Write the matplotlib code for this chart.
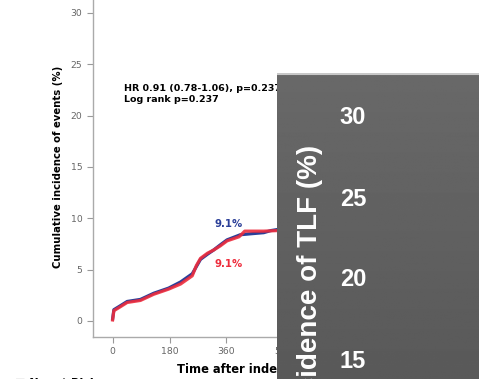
import matplotlib.pyplot as plt
import numpy as np

plt.rcParams['font.family'] = ['DejaVu Sans']

# cumulative incidence curves (days, %)
days_blue = [0, 4, 20, 46, 88, 130, 177, 215, 252, 265, 278, 300, 319, 340, 362, 404, 440, 478, 500, 520, 560]
inc_blue = [0.2, 1.1, 1.4, 1.9, 2.1, 2.7, 3.2, 3.8, 4.6, 5.3, 6.0, 6.5, 6.9, 7.4, 7.9, 8.4, 8.5, 8.6, 8.8, 8.9, 9.0]
days_red = [0, 4, 20, 46, 88, 130, 177, 215, 252, 265, 278, 300, 319, 340, 362, 400, 418, 440, 478, 520, 560]
inc_red = [0.1, 1.0, 1.3, 1.8, 2.0, 2.6, 3.1, 3.6, 4.4, 5.4, 6.1, 6.6, 6.9, 7.3, 7.8, 8.2, 8.75, 8.75, 8.75, 8.8, 9.0]

xticks = [0, 180, 360, 540, 720, 900, 1080]
yticks = [0, 5, 10, 15, 20, 25, 30]
tlf_ticks = ['30', '25', '20', '15']

W, H = 479, 379
fig = plt.figure(figsize=(W / 100, H / 100), dpi=100)

ax = fig.add_axes([92.7 / W, 42 / H, (W - 92.7) / W, (H - 42) / H])
ax.plot(days_blue, inc_blue, color='#2b3f98', lw=2.3, solid_joinstyle='round')
ax.plot(days_red, inc_red, color='#ee2c3c', lw=2.3, alpha=0.9, solid_joinstyle='round')
ax.set_xlim(-63, 1159)
ax.set_ylim(-1.56, 31.26)
ax.set_xticks(xticks)
ax.set_yticks(yticks)
ax.tick_params(labelsize=6.7, labelcolor='#666666', color='#999999', length=4, width=0.8)
for s in ['top', 'right']:
    ax.spines[s].set_visible(False)
for s in ['left', 'bottom']:
    ax.spines[s].set_color('#aaaaaa')
    ax.spines[s].set_linewidth(1.0)

ax.text(35, 22.6, 'HR 0.91 (0.78-1.06), p=0.237', fontsize=6.8, fontweight='bold', va='center')
ax.text(35, 21.6, 'Log rank p=0.237', fontsize=6.8, fontweight='bold', va='center')
ax.text(366, 9.45, '9.1%', color='#2b3f98', fontsize=7.3, fontweight='bold', ha='center', va='center')
ax.text(366, 5.55, '9.1%', color='#ee2c3c', fontsize=7.3, fontweight='bold', ha='center', va='center')

fig.text(58 / W, 1 - 167 / H, 'Cumulative incidence of events (%)', rotation=90,
         fontsize=7.3, fontweight='bold', ha='center', va='center')
fig.text(177 / W, 1 - 370 / H, 'Time after index procedure (days)', fontsize=8.3,
         fontweight='bold', ha='left', va='center')
fig.text(15 / W, 1.5 / H, '■ No. at Risk', fontsize=8, fontweight='bold', ha='left', va='top')

# grey inset panel with the TLF axis
px = fig.add_axes([277 / W, 0, (W - 277) / W, 306 / H], zorder=5)
grad = np.linspace(0.41, 0.35, 200).reshape(-1, 1)
px.imshow(grad, cmap='gray', vmin=0, vmax=1, aspect='auto', extent=[0, 202, 0, 306])
px.set_xlim(0, 202)
px.set_ylim(0, 306)
px.axhline(305, color='#c8c8c8', lw=1.5)
px.axis('off')

for lbl, y in zip(tlf_ticks, [117, 200, 280, 362]):
    px.text(353 - 277, 379 - y, lbl, color='white', fontsize=17, fontweight='bold',
            family='Liberation Sans', ha='center', va='center')
px.text(310 - 277, 379 - 145, 'Cumulative incidence of TLF (%)', color='white', fontsize=20,
        fontweight='bold', family='Liberation Sans', rotation=90, rotation_mode='anchor',
        ha='right', va='center', clip_on=False)

fig.savefig('out.png', dpi=100)
